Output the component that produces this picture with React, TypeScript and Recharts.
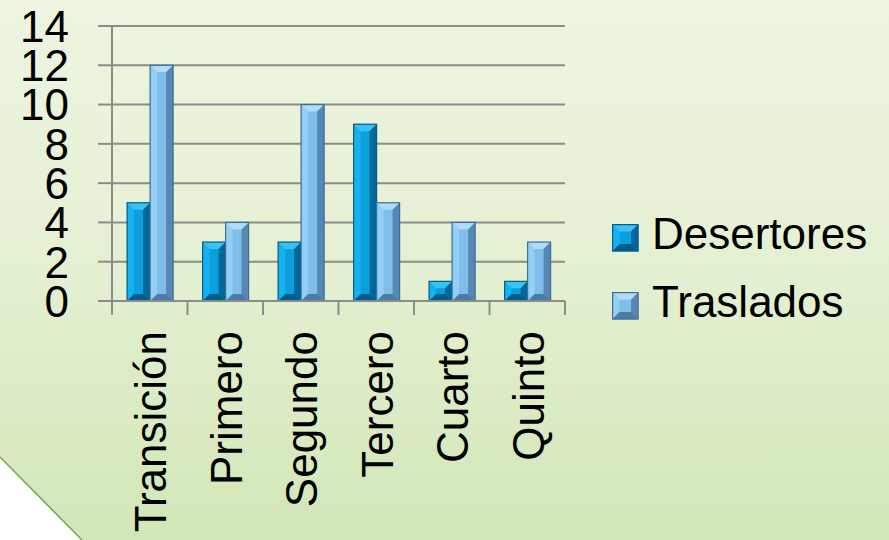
import { BarChart, Bar, XAxis, YAxis, CartesianGrid, Legend } from "recharts";

const categories = ["Transición", "Primero", "Segundo", "Tercero", "Cuarto", "Quinto"];
const desertores = [5, 3, 3, 9, 1, 1];
const traslados = [12, 4, 10, 5, 4, 3];
const yTicks = [0, 2, 4, 6, 8, 10, 12, 14];

const data = categories.map((name, i) => ({
  name,
  Desertores: desertores[i],
  Traslados: traslados[i],
}));

const W = 889;
const H = 540;
const LEFT = 112;
const RIGHT = 324;
const TOP = 26;
const BOTTOM_AXIS = 239;
const HALF_BAND = (W - LEFT - RIGHT) / categories.length / 2;

const FONT = '"Liberation Sans", Arial, sans-serif';
const GRID = "#8b8b8b";

const palettes: Record<string, any> = {
  Desertores: { face: "#0b9fdc", left: "#14b2f0", top: "#38c3f6", right: "#00679a", bottom: "#005b88", border: "#0b5a80" },
  Traslados: { face: "#80bde9", left: "#93cef4", top: "#aedcf9", right: "#5688b3", bottom: "#4c7ba5", border: "#3f6d95" },
};

function BevelBar(props: any) {
  const { x, y, width: w, height: h, pal } = props;
  if (!h || h <= 0) return null;
  const b = Math.min(7, h / 2, w / 2);
  const p = (pts: number[][]) => pts.map((q) => q.join(",")).join(" ");
  return (
    <g>
      <rect x={x} y={y} width={w} height={h} fill={pal.face} />
      <polygon points={p([[x, y], [x, y + h], [x + b, y + h - b], [x + b, y + b]])} fill={pal.left} />
      <polygon points={p([[x, y], [x + w, y], [x + w - b, y + b], [x + b, y + b]])} fill={pal.top} />
      <polygon points={p([[x + w, y], [x + w, y + h], [x + w - b, y + h - b], [x + w - b, y + b]])} fill={pal.right} />
      <polygon points={p([[x, y + h], [x + w, y + h], [x + w - b, y + h - b], [x + b, y + h - b]])} fill={pal.bottom} />
      <rect x={x} y={y} width={w} height={h} fill="none" stroke={pal.border} strokeWidth={1.2} />
    </g>
  );
}

function XTick(props: any) {
  const { x, y, payload, index } = props;
  const axisY = y - 30;
  return (
    <g>
      <line x1={x - HALF_BAND} x2={x - HALF_BAND} y1={axisY} y2={axisY + 14} stroke={GRID} strokeWidth={2} />
      {index === categories.length - 1 && (
        <line x1={x + HALF_BAND} x2={x + HALF_BAND} y1={axisY} y2={axisY + 14} stroke={GRID} strokeWidth={2} />
      )}
      <text
        transform={`translate(${x},${y}) rotate(-90)`}
        textAnchor="end"
        dy="0.38em"
        fontSize={44}
        fontFamily={FONT}
        fill="#000"
      >
        {payload.value}
      </text>
    </g>
  );
}

function YTick(props: any) {
  const { x, y, payload } = props;
  return (
    <text x={x} y={y} dy="0.36em" textAnchor="end" fontSize={44} fontFamily={FONT} fill="#000">
      {payload.value}
    </text>
  );
}

function LegendBox() {
  const items = ["Desertores", "Traslados"];
  return (
    <div>
      {items.map((k) => (
        <div key={k} style={{ display: "flex", alignItems: "center", height: 68 }}>
          <svg width={28} height={28} style={{ marginTop: 7, marginRight: 12 }}>
            <BevelBar x={0.6} y={0.6} width={25.5} height={26.5} pal={palettes[k]} />
          </svg>
          <span style={{ fontFamily: FONT, fontSize: 44, lineHeight: "44px", color: "#000" }}>{k}</span>
        </div>
      ))}
    </div>
  );
}

export default function App() {
  return (
    <div
      style={{
        position: "absolute",
        left: 0,
        top: 0,
        width: W,
        height: H,
        overflow: "hidden",
        background: "linear-gradient(180deg, #edf5e1 0%, #e4f0d2 50%, #d2e6b7 100%)",
      }}
    >
      <svg width={W} height={H} style={{ position: "absolute", left: 0, top: 0 }}>
        <defs>
          <linearGradient id="fold" x1="0" y1="0" x2="0.45" y2="-0.45" gradientUnits="objectBoundingBox">
            <stop offset="0" stopColor="#ffffff" />
            <stop offset="0.75" stopColor="#f4f4f4" />
            <stop offset="1" stopColor="#9a9a9a" />
          </linearGradient>
        </defs>
        <polygon points={`0,457 82,540 0,540`} fill="url(#fold)" />
        <line x1={0} y1={457} x2={82} y2={540} stroke="#7f9c55" strokeWidth={1.5} />
      </svg>
      <div style={{ position: "absolute", left: 0, top: 0 }}>
        <BarChart
          width={W}
          height={H}
          data={data}
          margin={{ top: TOP, right: RIGHT, left: 0, bottom: 0 }}
          barCategoryGap="20%"
          barGap={0}
        >
          <CartesianGrid vertical={false} stroke={GRID} strokeWidth={2} />
          <XAxis
            dataKey="name"
            interval={0}
            height={BOTTOM_AXIS}
            tickLine={false}
            tickSize={14}
            tickMargin={16}
            axisLine={{ stroke: GRID, strokeWidth: 2 }}
            tick={<XTick />}
          />
          <YAxis
            domain={[0, 14]}
            ticks={yTicks}
            interval={0}
            width={LEFT}
            tickSize={14}
            tickMargin={29}
            axisLine={{ stroke: GRID, strokeWidth: 2 }}
            tickLine={{ stroke: GRID, strokeWidth: 2 }}
            tick={<YTick />}
          />
          <Legend
            layout="vertical"
            align="center"
            verticalAlign="middle"
            content={<LegendBox />}
            wrapperStyle={{ position: "absolute", left: 612, top: 200, width: 277 }}
          />
          <Bar
            dataKey="Desertores"
            fill="#0b9fdc"
            isAnimationActive={false}
            shape={(p: any) => <BevelBar {...p} pal={palettes.Desertores} />}
          />
          <Bar
            dataKey="Traslados"
            fill="#80bde9"
            isAnimationActive={false}
            shape={(p: any) => <BevelBar {...p} pal={palettes.Traslados} />}
          />
        </BarChart>
      </div>
    </div>
  );
}
